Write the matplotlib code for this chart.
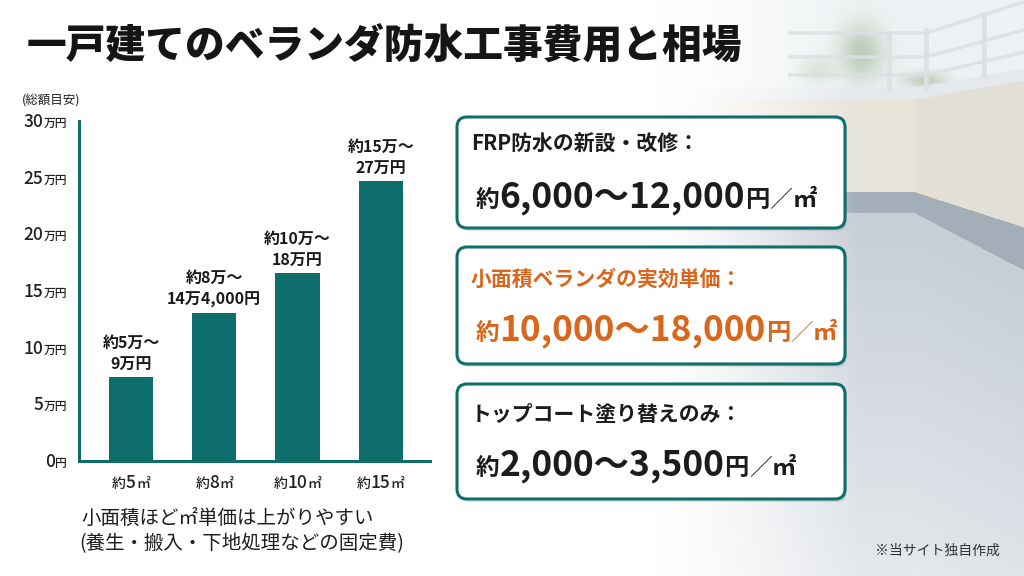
import numpy as np
import matplotlib
matplotlib.use("Agg")
import matplotlib.pyplot as plt
from matplotlib.patches import FancyBboxPatch
from matplotlib.transforms import IdentityTransform

FAM = ['Noto Sans CJK JP', 'DejaVu Sans']
plt.rcParams['font.family'] = FAM

# ---------------- data ----------------
title = "一戸建てのベランダ防水工事費用と相場"
y_caption = "(総額目安)"
areas = ["5", "8", "10", "15"]
cost_values = [7.4, 13.1, 16.6, 24.7]          # 万円 (bar heights)
bar_labels = ["約5万～\n9万円", "約8万～\n14万4,000円", "約10万～\n18万円", "約15万～\n27万円"]
y_ticks = [0, 5, 10, 15, 20, 25, 30]
box_headers = ["FRP防水の新設・改修：", "小面積ベランダの実効単価：", "トップコート塗り替えのみ："]
box_ranges = ["6,000～12,000", "10,000～18,000", "2,000～3,500"]
caption_lines = ["小面積ほど㎡単価は上がりやすい", "(養生・搬入・下地処理などの固定費)"]
footnote = "※当サイト独自作成"

TEAL = "#0E6E6B"
ORANGE = "#D8661C"
DARK = "#1C1C1C"

W, H = 1024, 576
fig = plt.figure(figsize=(W / 100, H / 100), dpi=100)

# ---------------- background (stylised balcony photo) ----------------
yy, xx = np.mgrid[0:H, 0:W].astype(float)
sky = np.array([238, 242, 244]) / 255
wall_l = np.array([230, 227, 217]) / 255
wall_r = np.array([226, 223, 212]) / 255
cap = np.array([230, 233, 236]) / 255
base = np.array([163, 174, 185]) / 255
floor_top = np.array([198, 206, 214]) / 255
floor_bot = np.array([229, 232, 236]) / 255

corner = 915
cap_top = np.where(xx < corner, 87, 87 - (xx - corner) * 19 / 109)
cap_bot = cap_top + 12
wall_bot = np.where(xx < corner, 192, 192 + (xx - corner) * 35 / 109)
base_bot = np.where(xx < corner, 213, 213 + (xx - corner) * 57 / 109)

photo = np.ones((H, W, 3)) * sky
green = np.array([150, 172, 135]) / 255
for cx, cy, rx, ry, s in [(860, 52, 28, 34, 0.55), (925, 80, 26, 10, 0.5), (815, 70, 22, 16, 0.35)]:
    wgt = s * np.exp(-(((xx - cx) / rx) ** 2 + ((yy - cy) / ry) ** 2) * 1.5)
    wgt = np.where(yy < cap_top, wgt, 0)[..., None]
    photo = photo * (1 - wgt) + green * wgt
m = (yy >= cap_top) & (yy < cap_bot)
photo[m] = cap
m = (yy >= cap_bot) & (yy < wall_bot)
photo[m & (xx < corner)] = wall_l
photo[m & (xx >= corner)] = wall_r
m = (yy >= wall_bot) & (yy < base_bot)
photo[m] = base
m = yy >= base_bot
t = np.clip((yy - base_bot) / 360, 0, 1)[..., None]
floor = floor_top * (1 - t) + floor_bot * t
photo[m] = floor[m]
a = np.clip((xx - 650) / 210, 0, 1) ** 1.3
img = np.ones((H, W, 3)) * (1 - a[..., None]) + photo * a[..., None]

axbg = fig.add_axes([0, 0, 1, 1], zorder=-5)
axbg.imshow(img, extent=(0, W, H, 0), aspect='auto')
rail_col = "#DCE0E4"
for pts in [[(790, 33), (926, 33), (1024, 2)],
            [(790, 57), (926, 57), (1024, 30)],
            [(790, 75), (926, 75), (1024, 52)]]:
    px, py = zip(*pts)
    axbg.plot(px, py, color=rail_col, lw=2.5, alpha=0.85)
for px, y0, y1 in [(889, 33, 87), (926, 30, 87), (984, 14, 75)]:
    axbg.plot([px, px], [y0, y1], color=rail_col, lw=3.5, alpha=0.9)
axbg.set_xlim(0, W)
axbg.set_ylim(H, 0)
axbg.axis('off')

renderer = fig.canvas.get_renderer()


def runs(x, y, parts, ha='left'):
    """Place text pieces on one baseline; x,y in pixels (y from top)."""
    objs, widths = [], []
    for s, size, weight, color in parts:
        tt = fig.text(0, 0, s, fontsize=size, fontweight=weight, color=color,
                      va='baseline', ha='left')
        objs.append(tt)
        widths.append(tt.get_window_extent(renderer).width)
    total = sum(widths)
    cur = x - total if ha == 'right' else (x - total / 2 if ha == 'center' else x)
    for tt, w in zip(objs, widths):
        tt.set_position((cur / W, 1 - y / H))
        cur += w


# ---------------- title ----------------
fig.text(27 / W, 1 - 46 / H, title, fontsize=28.6, fontweight='heavy',
         color="#151515", va='center', ha='left')

# ---------------- bar chart ----------------
ax = fig.add_axes([79 / W, (H - 461) / H, 351 / W, 340 / H])
ax.patch.set_alpha(0)
xpos = np.arange(len(areas))
ax.bar(xpos, cost_values, width=0.53, color=TEAL, zorder=2)
ax.set_xlim(-0.624, 3.59)
ax.set_ylim(0, 30)
for s in ['top', 'right']:
    ax.spines[s].set_visible(False)
for s in ['left', 'bottom']:
    ax.spines[s].set_color(TEAL)
    ax.spines[s].set_linewidth(2.2)
ax.set_xticks([])
ax.set_yticks([])

for i, (v, lbl) in enumerate(zip(cost_values, bar_labels)):
    ax.annotate(lbl, (i, v), xytext=(0, 3), textcoords='offset points',
                ha='center', va='bottom', fontsize=11.5, fontweight='bold',
                color="#1A1A1A", linespacing=1.45)

fig.canvas.draw()
for v in y_ticks:
    disp = ax.transData.transform((0, v))
    ypix = H - disp[1]
    runs(67, ypix + 6, [(str(v), 12.5, 'medium', "#222222"),
                        ("万円" if v else "円", 8.5, 'medium', "#222222")], ha='right')

for i, ar in enumerate(areas):
    disp = ax.transData.transform((i, 0))
    runs(disp[0], 488, [("約", 10, 'medium', "#222222"), (ar, 12.5, 'medium', "#222222"),
                        ("㎡", 10, 'medium', "#222222")], ha='center')

fig.text(22 / W, 1 - 100 / H, y_caption, fontsize=9, color="#222222",
         va='center', ha='left')

fig.text(81 / W, 1 - 518 / H, caption_lines[0], fontsize=14, color="#1E1E1E",
         va='center', ha='left')
fig.text(79 / W, 1 - 544 / H, caption_lines[1], fontsize=14, color="#1E1E1E",
         va='center', ha='left')

# ---------------- info boxes ----------------
boxes = [(117, 228, 151, 207), (247, 364, 286, 340), (384, 499, 421, 475)]
colors = [DARK, ORANGE, DARK]
for (top, bot, hb, bb), hdr, rng, col in zip(boxes, box_headers, box_ranges, colors):
    x0, x1 = 457, 845
    shadow = FancyBboxPatch((x0 + 2, H - bot - 3), x1 - x0, bot - top,
                            boxstyle="round,pad=0,rounding_size=10",
                            transform=IdentityTransform(), facecolor="#000000",
                            edgecolor='none', alpha=0.10, zorder=1)
    fig.add_artist(shadow)
    p = FancyBboxPatch((x0, H - bot), x1 - x0, bot - top,
                       boxstyle="round,pad=0,rounding_size=10",
                       transform=IdentityTransform(), facecolor="white",
                       edgecolor=TEAL, linewidth=2.2, zorder=2)
    fig.add_artist(p)
    runs(471, hb, [(hdr, 15, 'bold', col)])
    runs(476, bb, [("約", 17, 'bold', col), (rng, 25.5, 'bold', col),
                   ("円", 17.5, 'bold', col), ("／", 16.5, 'light', col),
                   ("㎡", 17.5, 'bold', col)])

fig.text(1000 / W, 1 - 551 / H, footnote, fontsize=10, color="#333333",
         va='center', ha='right')

fig.savefig("out.png", dpi=100)
